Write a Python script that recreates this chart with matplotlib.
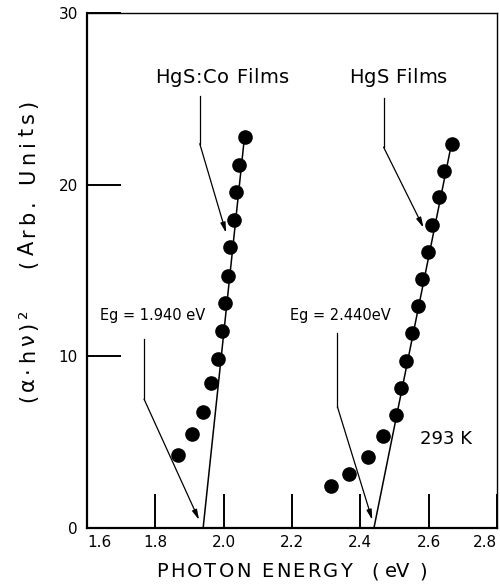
import matplotlib
matplotlib.use("Agg")
import matplotlib.pyplot as plt
from matplotlib.font_manager import FontProperties

plt.rcParams['font.family'] = ['DejaVu Sans']

# HgS:Co films, (alpha*h*nu)^2 vs photon energy
co_x = [1.867, 1.908, 1.940, 1.963, 1.984, 1.995, 2.005, 2.013, 2.018, 2.030, 2.036, 2.045, 2.061]
co_y = [4.24, 5.45, 6.73, 8.42, 9.84, 11.49, 13.08, 14.69, 16.35, 17.97, 19.56, 21.18, 22.80]

# HgS films
hgs_x = [2.313, 2.367, 2.421, 2.465, 2.503, 2.519, 2.534, 2.552, 2.568, 2.581, 2.598, 2.610, 2.630, 2.646, 2.667]
hgs_y = [2.43, 3.13, 4.14, 5.35, 6.57, 8.16, 9.74, 11.34, 12.94, 14.50, 16.10, 17.65, 19.27, 20.82, 22.41]

# linear fits, extrapolated to zero
co_fit_x = [1.94, 2.061]
co_fit_y = [0, 22.8]
hgs_fit_x = [2.44, 2.667]
hgs_fit_y = [0, 22.41]

x_ticks = [1.6, 1.8, 2.0, 2.2, 2.4, 2.6, 2.8]
y_ticks = [0, 10, 20, 30]

W, H = 500, 584
fig = plt.figure(figsize=(W / 100, H / 100), dpi=100)
ax = fig.add_axes([0.174, 0.0964, 0.82, 0.8806])
renderer = fig.canvas.get_renderer()


def tracked_text(xc, yb, s, size, width, rotation=0):
    # letter-spaced text: centred on xc, baseline at yb (pixels from top)
    fp = FontProperties(family='DejaVu Sans', size=size)
    widths = []
    for ch in s:
        if ch == ' ':
            widths.append(0.3 * size * 100 / 72)
        else:
            widths.append(renderer.get_text_width_height_descent(ch, fp, ismath=False)[0])
    gap = (width - sum(widths)) / (len(s) - 1)
    pos = -width / 2
    for ch, w in zip(s, widths):
        c = pos + w / 2
        if rotation == 90:
            x, y = xc, (H - yb) + c
        else:
            x, y = xc + c, H - yb
        if ch != ' ':
            fig.text(x / W, y / H, ch, fontproperties=fp, ha='center', va='baseline',
                     rotation=rotation, rotation_mode='anchor')
        pos += w + gap


ax.plot(co_fit_x, co_fit_y, color='black', lw=1.1)
ax.plot(hgs_fit_x, hgs_fit_y, color='black', lw=1.1)
ax.plot(co_x, co_y, 'o', color='black', markersize=9.5)
ax.plot(hgs_x, hgs_y, 'o', color='black', markersize=9.5)

ax.set_xlim(1.6, 2.8)
ax.set_ylim(0, 30)
ax.set_xticks(x_ticks)
ax.set_xticklabels([f"{t:.1f}" for t in x_ticks])
ax.set_yticks(y_ticks)
ax.set_yticklabels([str(t) for t in y_ticks])
ax.tick_params(direction='in', length=24.5, width=1.4, labelsize=11)
ax.tick_params(axis='x', pad=5)
ax.tick_params(axis='y', pad=6.5)
xlabels = ax.get_xticklabels()
xlabels[0].set_ha('left')
xlabels[-1].set_ha('right')

for side in ['left', 'bottom']:
    ax.spines[side].set_linewidth(1.6)
for side in ['top', 'right']:
    ax.spines[side].set_linewidth(1.0)


def bent_arrow(top, corner, tip):
    ax.plot([top[0], corner[0]], [top[1], corner[1]], color='black', lw=0.9)
    ax.annotate('', xy=tip, xytext=corner,
                arrowprops=dict(arrowstyle='-|>,head_length=0.6,head_width=0.15',
                                lw=0.9, color='black', shrinkA=0, shrinkB=0))


bent_arrow((1.930, 25.2), (1.930, 22.4), (2.007, 17.2))
bent_arrow((2.468, 25.05), (2.468, 22.2), (2.585, 17.5))
bent_arrow((1.767, 11.0), (1.767, 7.5), (1.928, 0.45))
bent_arrow((2.333, 11.35), (2.333, 7.05), (2.435, 0.45))

tracked_text(222, 83, "HgS:Co Films", 14, 134)
tracked_text(398, 83, "HgS Films", 14, 98)
ax.text(1.792, 12.35, "Eg = 1.940 eV", fontsize=10.5, ha='center', va='center')
ax.text(2.342, 12.35, "Eg = 2.440eV", fontsize=10.5, ha='center', va='center')
ax.text(2.651, 5.2, "293 K", fontsize=13, ha='center', va='center')

# x axis title
tracked_text(254, 577, "PHOTON ENERGY", 14, 196)
fig.text(375 / W, 1 - 577 / H, "(", fontsize=14, ha='center', va='baseline')
fig.text(398 / W, 1 - 577 / H, "eV", fontsize=14, ha='center', va='baseline')
fig.text(423 / W, 1 - 577 / H, ")", fontsize=14, ha='center', va='baseline')

# y axis title
tracked_text(34, 356, "(α·hν)²", 15, 93, rotation=90)
tracked_text(34, 184, "(Arb. Units)", 15, 168, rotation=90)

fig.savefig("out.png", dpi=100)
